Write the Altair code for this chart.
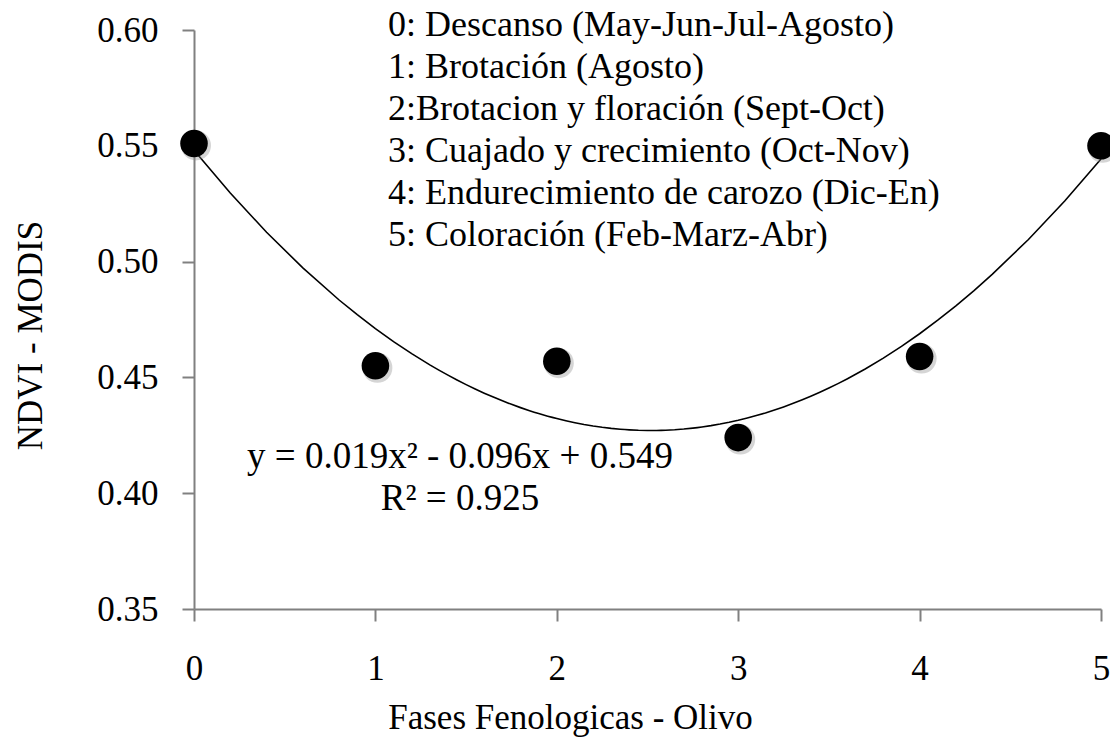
import altair as alt
import pandas as pd

fases = [0, 1, 2, 3, 4, 5]
ndvi = [0.551, 0.455, 0.457, 0.424, 0.459, 0.550]

legend_lines = [
    "0: Descanso (May-Jun-Jul-Agosto)",
    "1: Brotación (Agosto)",
    "2:Brotacion y floración  (Sept-Oct)",
    "3: Cuajado y crecimiento (Oct-Nov)",
    "4: Endurecimiento de carozo  (Dic-En)",
    "5: Coloración  (Feb-Marz-Abr)",
]
equation_lines = ["y = 0.019x²  -  0.096x + 0.549", "R² = 0.925"]

FONT = "Liberation Serif"
W, H = 907, 579

df = pd.DataFrame({"x": fases, "y": ndvi})
one = pd.DataFrame({"k": [0]})

xscale = alt.Scale(domain=[0, 5], nice=False, zero=False)
yscale = alt.Scale(domain=[0.35, 0.60], nice=False, zero=False)

xaxis = alt.Axis(
    values=fases, format="d", title="Fases Fenologicas - Olivo",
    labelFont=FONT, labelFontSize=35, labelColor="black", labelPadding=30,
    titleFont=FONT, titleFontSize=35, titleFontWeight="normal", titleColor="black",
    titleX=376, titleY=108, titleAnchor="start", titleAlign="center", titleBaseline="middle",
    domainColor="#808080", domainWidth=2, tickColor="#808080", tickWidth=2, tickSize=12,
    grid=False, labelFlush=False,
)
yaxis = alt.Axis(
    values=[0.35, 0.40, 0.45, 0.50, 0.55, 0.60], format=".2f", title="NDVI  -  MODIS",
    labelFont=FONT, labelFontSize=35, labelColor="black", labelPadding=24,
    titleFont=FONT, titleFontSize=35, titleFontWeight="normal", titleColor="black",
    titleX=-164, titleY=305, titleAngle=-90, titleAlign="center", titleBaseline="middle",
    domainColor="#808080", domainWidth=2, tickColor="#808080", tickWidth=2, tickSize=12,
    grid=False, labelFlush=False,
)

X = alt.X("x:Q", scale=xscale, axis=xaxis)
Y = alt.Y("y:Q", scale=yscale, axis=yaxis)

base = alt.Chart(df)

curve = base.transform_regression(
    "x", "y", method="poly", order=2, extent=[0, 5]
).mark_line(color="black", strokeWidth=1.6).encode(x=X, y=Y)

shadow = base.mark_circle(size=900, color="#888888", opacity=0.35, xOffset=2, yOffset=2).encode(x=X, y=Y)

points = base.mark_circle(size=760, color="black", opacity=1).encode(x=X, y=Y)

legend = alt.Chart(one).mark_text(
    font=FONT, fontSize=36, fontWeight="normal", align="left", baseline="top", color="black",
    lineHeight=42, text=legend_lines,
).encode(x=alt.value(194), y=alt.value(-22))

equation = alt.Chart(one).mark_text(
    font=FONT, fontSize=37, fontWeight="normal", align="center", baseline="top", color="black",
    lineHeight=42, text=equation_lines,
).encode(x=alt.value(266), y=alt.value(409))

chart = alt.layer(curve, shadow, points, legend, equation).properties(
    width=W, height=H,
    padding={"left": 194, "top": 30, "right": 9, "bottom": 138},
    autosize=alt.AutoSizeParams(type="none"),
    background="white",
).configure_view(stroke=None)

chart.save("out.html", embed_options={"renderer": "svg", "actions": False})
